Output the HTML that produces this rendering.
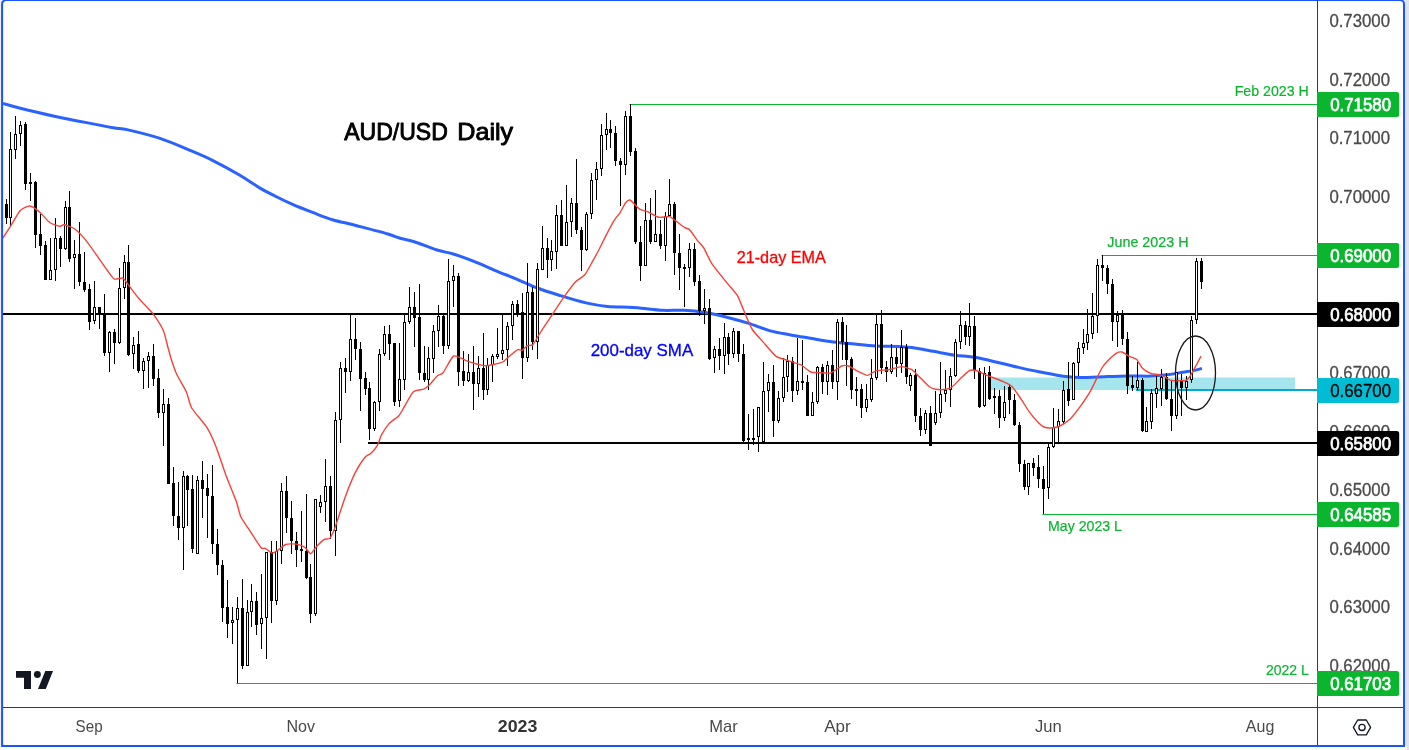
<!DOCTYPE html>
<html><head><meta charset="utf-8"><title>AUD/USD Daily</title>
<style>
html,body{margin:0;padding:0;background:#ffffff;}
body{width:1409px;height:750px;overflow:hidden;position:relative;font-family:"Liberation Sans",sans-serif;}
svg{position:absolute;left:0;top:0;display:block}
text{font-family:"Liberation Sans",sans-serif;}
</style></head><body>
<svg width="1409" height="750" viewBox="0 0 1409 750">

<rect x="0" y="0" width="1409" height="750" fill="#ffffff"/><rect x="1404" y="0" width="5" height="746" fill="#dfe3ee"/><rect x="1407" y="744" width="2" height="6" fill="#dfe3ee"/><rect x="0" y="0" width="2" height="746" fill="#eceef5"/>
<path d="M2.1,745.9 V4 a4,4 0 0 1 4,-4 H1400 a4,4 0 0 1 4,4 V745.9 Z" fill="#ffffff" stroke="#1a53ff" stroke-width="2" stroke-linejoin="miter"/>
<clipPath id="c"><rect x="3" y="0" width="1314" height="707"/></clipPath>
<g clip-path="url(#c)">
<rect x="991" y="377.5" width="304" height="12.5" fill="#a5e6ee"/>
<rect x="1136" y="389" width="182" height="2" fill="#00acc8"/>
<rect x="3" y="313" width="1315" height="2" fill="#000"/>
<rect x="368" y="442" width="950" height="2" fill="#000"/>
<rect x="629.5" y="104" width="688.5" height="1" fill="#09b62d"/>
<rect x="1101.5" y="255" width="216.5" height="1" fill="#09b62d"/>
<rect x="1042.5" y="514" width="275.5" height="1" fill="#09b62d"/>
<rect x="236.5" y="683" width="1081.5" height="1" fill="#09b62d"/>
<path d="M3.0,103.5 C6.1,104.3 12.9,106.4 21.3,108.5 C29.7,110.6 42.6,113.7 53.3,116.0 C64.0,118.3 75.3,120.5 85.3,122.4 C95.3,124.4 106.0,126.5 113.1,127.7 C120.2,128.9 120.2,128.1 128.0,129.9 C135.8,131.7 149.3,134.9 160.0,138.4 C170.7,141.9 183.1,147.5 192.0,151.2 C200.9,154.9 205.6,156.9 213.4,160.8 C221.2,164.7 231.2,170.1 239.0,174.7 C246.8,179.2 254.0,184.5 260.0,188.1 C266.0,191.7 269.6,193.3 274.9,196.0 C280.2,198.7 285.6,201.3 292.0,204.1 C298.4,206.9 306.6,210.1 313.3,212.7 C320.1,215.3 325.4,217.6 332.5,219.7 C339.6,221.8 346.8,223.1 356.0,225.5 C365.2,227.9 380.9,231.9 388.0,234.0 C395.1,236.1 394.4,236.6 398.7,237.8 C403.0,239.1 407.2,239.5 413.6,241.5 C420.0,243.5 430.4,247.9 437.1,250.0 C443.9,252.1 447.4,252.2 454.1,254.3 C460.9,256.4 470.8,260.1 477.6,262.8 C484.4,265.5 488.3,267.6 494.7,270.3 C501.1,273.0 508.9,275.9 516.0,278.8 C523.1,281.8 530.1,285.2 537.4,288.0 C544.7,290.8 551.9,293.0 560.0,295.5 C568.1,298.0 578.1,301.1 586.0,302.9 C593.9,304.7 600.3,305.8 607.4,306.5 C614.5,307.2 623.1,306.9 628.7,307.2 C634.4,307.5 635.6,307.7 641.3,308.2 C647.0,308.7 655.6,309.9 662.7,310.3 C669.8,310.7 676.9,309.9 684.0,310.3 C691.1,310.7 698.2,311.4 705.3,312.5 C712.4,313.6 719.6,315.4 726.7,317.2 C733.8,319.0 740.9,320.9 748.0,323.1 C755.1,325.3 762.3,328.6 769.4,330.6 C776.5,332.6 783.6,333.6 790.7,334.9 C797.8,336.2 804.9,337.3 812.0,338.5 C819.1,339.7 826.3,341.0 833.4,341.9 C840.5,342.8 847.6,343.4 854.7,344.1 C861.8,344.8 868.9,345.6 876.0,346.0 C883.1,346.4 891.4,346.1 897.4,346.4 C903.4,346.6 906.0,346.7 912.0,347.5 C918.0,348.3 926.3,350.0 933.4,351.3 C940.5,352.6 947.6,354.2 954.7,355.2 C961.8,356.2 968.2,356.1 976.0,357.5 C983.8,358.9 993.5,361.5 1001.3,363.3 C1009.1,365.1 1015.6,366.8 1022.7,368.4 C1029.8,370.0 1036.9,371.3 1044.0,372.7 C1051.1,374.1 1059.2,375.7 1065.3,376.5 C1071.3,377.3 1073.2,377.6 1080.3,377.6 C1087.4,377.6 1099.8,376.8 1108.0,376.5 C1116.2,376.2 1122.3,376.0 1129.4,375.9 C1136.5,375.8 1144.3,376.3 1150.7,376.1 C1157.1,375.9 1162.4,375.4 1167.7,374.8 C1173.0,374.2 1178.4,373.0 1182.7,372.3 C1187.0,371.6 1190.2,371.2 1193.4,370.6 C1196.6,370.0 1200.5,368.8 1201.9,368.4" fill="none" stroke="#2962ff" stroke-width="3" stroke-linejoin="round" stroke-linecap="butt"/>
<g shape-rendering="crispEdges">
<rect x="6" y="199" width="1" height="25" fill="#000"/>
<rect x="5" y="204" width="3" height="14" fill="#000"/>
<rect x="10" y="132" width="1" height="95" fill="#000"/>
<rect x="9" y="149" width="3" height="69" fill="#000"/>
<rect x="10" y="150" width="1" height="67" fill="#fff"/>
<rect x="15" y="116" width="1" height="43" fill="#000"/>
<rect x="14" y="134" width="3" height="16" fill="#000"/>
<rect x="15" y="135" width="1" height="14" fill="#fff"/>
<rect x="20" y="121" width="1" height="25" fill="#000"/>
<rect x="19" y="125" width="3" height="9" fill="#000"/>
<rect x="20" y="126" width="1" height="7" fill="#fff"/>
<rect x="25" y="122" width="1" height="68" fill="#000"/>
<rect x="24" y="124" width="3" height="60" fill="#000"/>
<rect x="30" y="173" width="1" height="28" fill="#000"/>
<rect x="29" y="182" width="3" height="2" fill="#000"/>
<rect x="35" y="181" width="1" height="67" fill="#000"/>
<rect x="34" y="182" width="3" height="53" fill="#000"/>
<rect x="40" y="214" width="1" height="41" fill="#000"/>
<rect x="39" y="234" width="3" height="12" fill="#000"/>
<rect x="45" y="241" width="1" height="39" fill="#000"/>
<rect x="44" y="245" width="3" height="35" fill="#000"/>
<rect x="50" y="238" width="1" height="42" fill="#000"/>
<rect x="49" y="270" width="3" height="10" fill="#000"/>
<rect x="50" y="271" width="1" height="8" fill="#fff"/>
<rect x="55" y="218" width="1" height="63" fill="#000"/>
<rect x="54" y="238" width="3" height="32" fill="#000"/>
<rect x="55" y="239" width="1" height="30" fill="#fff"/>
<rect x="60" y="236" width="1" height="31" fill="#000"/>
<rect x="59" y="238" width="3" height="11" fill="#000"/>
<rect x="65" y="201" width="1" height="49" fill="#000"/>
<rect x="64" y="207" width="3" height="42" fill="#000"/>
<rect x="65" y="208" width="1" height="40" fill="#fff"/>
<rect x="69" y="191" width="1" height="71" fill="#000"/>
<rect x="68" y="207" width="3" height="52" fill="#000"/>
<rect x="74" y="240" width="1" height="49" fill="#000"/>
<rect x="73" y="254" width="3" height="4" fill="#000"/>
<rect x="74" y="255" width="1" height="2" fill="#fff"/>
<rect x="79" y="222" width="1" height="64" fill="#000"/>
<rect x="78" y="254" width="3" height="28" fill="#000"/>
<rect x="84" y="252" width="1" height="40" fill="#000"/>
<rect x="83" y="282" width="3" height="8" fill="#000"/>
<rect x="89" y="284" width="1" height="46" fill="#000"/>
<rect x="88" y="289" width="3" height="33" fill="#000"/>
<rect x="94" y="281" width="1" height="43" fill="#000"/>
<rect x="93" y="307" width="3" height="14" fill="#000"/>
<rect x="94" y="308" width="1" height="12" fill="#fff"/>
<rect x="99" y="307" width="1" height="22" fill="#000"/>
<rect x="98" y="307" width="3" height="8" fill="#000"/>
<rect x="104" y="294" width="1" height="62" fill="#000"/>
<rect x="103" y="314" width="3" height="39" fill="#000"/>
<rect x="109" y="331" width="1" height="41" fill="#000"/>
<rect x="108" y="332" width="3" height="21" fill="#000"/>
<rect x="109" y="333" width="1" height="19" fill="#fff"/>
<rect x="114" y="329" width="1" height="35" fill="#000"/>
<rect x="113" y="332" width="3" height="11" fill="#000"/>
<rect x="119" y="268" width="1" height="76" fill="#000"/>
<rect x="118" y="288" width="3" height="55" fill="#000"/>
<rect x="119" y="289" width="1" height="53" fill="#fff"/>
<rect x="124" y="255" width="1" height="44" fill="#000"/>
<rect x="123" y="262" width="3" height="26" fill="#000"/>
<rect x="124" y="263" width="1" height="24" fill="#fff"/>
<rect x="128" y="245" width="1" height="111" fill="#000"/>
<rect x="127" y="262" width="3" height="93" fill="#000"/>
<rect x="133" y="337" width="1" height="32" fill="#000"/>
<rect x="132" y="345" width="3" height="9" fill="#000"/>
<rect x="133" y="346" width="1" height="7" fill="#fff"/>
<rect x="138" y="331" width="1" height="42" fill="#000"/>
<rect x="137" y="344" width="3" height="27" fill="#000"/>
<rect x="143" y="358" width="1" height="31" fill="#000"/>
<rect x="142" y="361" width="3" height="10" fill="#000"/>
<rect x="143" y="362" width="1" height="8" fill="#fff"/>
<rect x="148" y="352" width="1" height="36" fill="#000"/>
<rect x="147" y="356" width="3" height="5" fill="#000"/>
<rect x="148" y="357" width="1" height="3" fill="#fff"/>
<rect x="153" y="344" width="1" height="42" fill="#000"/>
<rect x="152" y="356" width="3" height="23" fill="#000"/>
<rect x="158" y="369" width="1" height="49" fill="#000"/>
<rect x="157" y="378" width="3" height="35" fill="#000"/>
<rect x="163" y="389" width="1" height="57" fill="#000"/>
<rect x="162" y="404" width="3" height="9" fill="#000"/>
<rect x="163" y="405" width="1" height="7" fill="#fff"/>
<rect x="168" y="398" width="1" height="86" fill="#000"/>
<rect x="167" y="404" width="3" height="80" fill="#000"/>
<rect x="173" y="467" width="1" height="59" fill="#000"/>
<rect x="172" y="483" width="3" height="33" fill="#000"/>
<rect x="178" y="482" width="1" height="58" fill="#000"/>
<rect x="177" y="516" width="3" height="12" fill="#000"/>
<rect x="183" y="471" width="1" height="99" fill="#000"/>
<rect x="182" y="476" width="3" height="52" fill="#000"/>
<rect x="183" y="477" width="1" height="50" fill="#fff"/>
<rect x="187" y="475" width="1" height="51" fill="#000"/>
<rect x="186" y="476" width="3" height="14" fill="#000"/>
<rect x="192" y="475" width="1" height="78" fill="#000"/>
<rect x="191" y="489" width="3" height="60" fill="#000"/>
<rect x="197" y="476" width="1" height="78" fill="#000"/>
<rect x="196" y="480" width="3" height="74" fill="#000"/>
<rect x="197" y="481" width="1" height="72" fill="#fff"/>
<rect x="202" y="461" width="1" height="57" fill="#000"/>
<rect x="201" y="480" width="3" height="9" fill="#000"/>
<rect x="207" y="474" width="1" height="64" fill="#000"/>
<rect x="206" y="488" width="3" height="8" fill="#000"/>
<rect x="212" y="465" width="1" height="89" fill="#000"/>
<rect x="211" y="496" width="3" height="48" fill="#000"/>
<rect x="217" y="529" width="1" height="46" fill="#000"/>
<rect x="216" y="544" width="3" height="21" fill="#000"/>
<rect x="222" y="560" width="1" height="62" fill="#000"/>
<rect x="221" y="565" width="3" height="43" fill="#000"/>
<rect x="227" y="580" width="1" height="58" fill="#000"/>
<rect x="226" y="607" width="3" height="17" fill="#000"/>
<rect x="232" y="607" width="1" height="37" fill="#000"/>
<rect x="231" y="620" width="3" height="3" fill="#000"/>
<rect x="232" y="621" width="1" height="1" fill="#fff"/>
<rect x="237" y="597" width="1" height="86" fill="#000"/>
<rect x="236" y="608" width="3" height="12" fill="#000"/>
<rect x="237" y="609" width="1" height="10" fill="#fff"/>
<rect x="242" y="579" width="1" height="90" fill="#000"/>
<rect x="241" y="608" width="3" height="58" fill="#000"/>
<rect x="247" y="600" width="1" height="66" fill="#000"/>
<rect x="246" y="612" width="3" height="54" fill="#000"/>
<rect x="247" y="613" width="1" height="52" fill="#fff"/>
<rect x="251" y="584" width="1" height="43" fill="#000"/>
<rect x="250" y="601" width="3" height="11" fill="#000"/>
<rect x="251" y="602" width="1" height="9" fill="#fff"/>
<rect x="256" y="592" width="1" height="43" fill="#000"/>
<rect x="255" y="601" width="3" height="24" fill="#000"/>
<rect x="261" y="574" width="1" height="75" fill="#000"/>
<rect x="260" y="618" width="3" height="6" fill="#000"/>
<rect x="261" y="619" width="1" height="4" fill="#fff"/>
<rect x="266" y="552" width="1" height="107" fill="#000"/>
<rect x="265" y="552" width="3" height="66" fill="#000"/>
<rect x="266" y="553" width="1" height="64" fill="#fff"/>
<rect x="271" y="541" width="1" height="82" fill="#000"/>
<rect x="270" y="552" width="3" height="49" fill="#000"/>
<rect x="276" y="541" width="1" height="64" fill="#000"/>
<rect x="275" y="551" width="3" height="50" fill="#000"/>
<rect x="276" y="552" width="1" height="48" fill="#fff"/>
<rect x="281" y="483" width="1" height="81" fill="#000"/>
<rect x="280" y="491" width="3" height="60" fill="#000"/>
<rect x="281" y="492" width="1" height="58" fill="#fff"/>
<rect x="286" y="476" width="1" height="57" fill="#000"/>
<rect x="285" y="491" width="3" height="27" fill="#000"/>
<rect x="291" y="501" width="1" height="53" fill="#000"/>
<rect x="290" y="518" width="3" height="23" fill="#000"/>
<rect x="296" y="532" width="1" height="35" fill="#000"/>
<rect x="295" y="541" width="3" height="9" fill="#000"/>
<rect x="301" y="511" width="1" height="51" fill="#000"/>
<rect x="300" y="549" width="3" height="2" fill="#000"/>
<rect x="306" y="494" width="1" height="85" fill="#000"/>
<rect x="305" y="551" width="3" height="27" fill="#000"/>
<rect x="310" y="564" width="1" height="59" fill="#000"/>
<rect x="309" y="577" width="3" height="37" fill="#000"/>
<rect x="315" y="499" width="1" height="117" fill="#000"/>
<rect x="314" y="499" width="3" height="115" fill="#000"/>
<rect x="315" y="500" width="1" height="113" fill="#fff"/>
<rect x="320" y="495" width="1" height="18" fill="#000"/>
<rect x="319" y="502" width="3" height="5" fill="#000"/>
<rect x="320" y="503" width="1" height="3" fill="#fff"/>
<rect x="325" y="459" width="1" height="63" fill="#000"/>
<rect x="324" y="486" width="3" height="16" fill="#000"/>
<rect x="325" y="487" width="1" height="14" fill="#fff"/>
<rect x="330" y="476" width="1" height="63" fill="#000"/>
<rect x="329" y="486" width="3" height="45" fill="#000"/>
<rect x="335" y="412" width="1" height="144" fill="#000"/>
<rect x="334" y="420" width="3" height="111" fill="#000"/>
<rect x="335" y="421" width="1" height="109" fill="#fff"/>
<rect x="340" y="362" width="1" height="81" fill="#000"/>
<rect x="339" y="368" width="3" height="52" fill="#000"/>
<rect x="340" y="369" width="1" height="50" fill="#fff"/>
<rect x="345" y="358" width="1" height="35" fill="#000"/>
<rect x="344" y="368" width="3" height="4" fill="#000"/>
<rect x="350" y="314" width="1" height="67" fill="#000"/>
<rect x="349" y="339" width="3" height="33" fill="#000"/>
<rect x="350" y="340" width="1" height="31" fill="#fff"/>
<rect x="355" y="318" width="1" height="42" fill="#000"/>
<rect x="354" y="339" width="3" height="10" fill="#000"/>
<rect x="360" y="342" width="1" height="69" fill="#000"/>
<rect x="359" y="349" width="3" height="30" fill="#000"/>
<rect x="365" y="372" width="1" height="23" fill="#000"/>
<rect x="364" y="378" width="3" height="11" fill="#000"/>
<rect x="369" y="382" width="1" height="58" fill="#000"/>
<rect x="368" y="388" width="3" height="41" fill="#000"/>
<rect x="374" y="401" width="1" height="30" fill="#000"/>
<rect x="373" y="402" width="3" height="27" fill="#000"/>
<rect x="374" y="403" width="1" height="25" fill="#fff"/>
<rect x="379" y="349" width="1" height="62" fill="#000"/>
<rect x="378" y="354" width="3" height="48" fill="#000"/>
<rect x="379" y="355" width="1" height="46" fill="#fff"/>
<rect x="384" y="326" width="1" height="30" fill="#000"/>
<rect x="383" y="334" width="3" height="20" fill="#000"/>
<rect x="384" y="335" width="1" height="18" fill="#fff"/>
<rect x="389" y="325" width="1" height="35" fill="#000"/>
<rect x="388" y="334" width="3" height="10" fill="#000"/>
<rect x="394" y="343" width="1" height="63" fill="#000"/>
<rect x="393" y="343" width="3" height="59" fill="#000"/>
<rect x="399" y="343" width="1" height="64" fill="#000"/>
<rect x="398" y="379" width="3" height="22" fill="#000"/>
<rect x="399" y="380" width="1" height="20" fill="#fff"/>
<rect x="404" y="315" width="1" height="75" fill="#000"/>
<rect x="403" y="322" width="3" height="58" fill="#000"/>
<rect x="404" y="323" width="1" height="56" fill="#fff"/>
<rect x="409" y="287" width="1" height="37" fill="#000"/>
<rect x="408" y="307" width="3" height="15" fill="#000"/>
<rect x="409" y="308" width="1" height="13" fill="#fff"/>
<rect x="414" y="292" width="1" height="55" fill="#000"/>
<rect x="413" y="307" width="3" height="11" fill="#000"/>
<rect x="419" y="284" width="1" height="96" fill="#000"/>
<rect x="418" y="317" width="3" height="56" fill="#000"/>
<rect x="424" y="346" width="1" height="36" fill="#000"/>
<rect x="423" y="373" width="3" height="7" fill="#000"/>
<rect x="428" y="347" width="1" height="43" fill="#000"/>
<rect x="427" y="358" width="3" height="22" fill="#000"/>
<rect x="428" y="359" width="1" height="20" fill="#fff"/>
<rect x="433" y="325" width="1" height="48" fill="#000"/>
<rect x="432" y="331" width="3" height="28" fill="#000"/>
<rect x="433" y="332" width="1" height="26" fill="#fff"/>
<rect x="438" y="305" width="1" height="42" fill="#000"/>
<rect x="437" y="316" width="3" height="15" fill="#000"/>
<rect x="438" y="317" width="1" height="13" fill="#fff"/>
<rect x="443" y="315" width="1" height="39" fill="#000"/>
<rect x="442" y="316" width="3" height="30" fill="#000"/>
<rect x="448" y="259" width="1" height="90" fill="#000"/>
<rect x="447" y="281" width="3" height="65" fill="#000"/>
<rect x="448" y="282" width="1" height="63" fill="#fff"/>
<rect x="453" y="265" width="1" height="42" fill="#000"/>
<rect x="452" y="276" width="3" height="5" fill="#000"/>
<rect x="453" y="277" width="1" height="3" fill="#fff"/>
<rect x="458" y="273" width="1" height="113" fill="#000"/>
<rect x="457" y="276" width="3" height="96" fill="#000"/>
<rect x="463" y="351" width="1" height="35" fill="#000"/>
<rect x="462" y="371" width="3" height="10" fill="#000"/>
<rect x="468" y="354" width="1" height="28" fill="#000"/>
<rect x="467" y="372" width="3" height="9" fill="#000"/>
<rect x="468" y="373" width="1" height="7" fill="#fff"/>
<rect x="473" y="346" width="1" height="64" fill="#000"/>
<rect x="472" y="372" width="3" height="12" fill="#000"/>
<rect x="478" y="356" width="1" height="41" fill="#000"/>
<rect x="477" y="368" width="3" height="16" fill="#000"/>
<rect x="478" y="369" width="1" height="14" fill="#fff"/>
<rect x="483" y="333" width="1" height="67" fill="#000"/>
<rect x="482" y="368" width="3" height="22" fill="#000"/>
<rect x="487" y="358" width="1" height="37" fill="#000"/>
<rect x="486" y="365" width="3" height="25" fill="#000"/>
<rect x="487" y="366" width="1" height="23" fill="#fff"/>
<rect x="492" y="354" width="1" height="28" fill="#000"/>
<rect x="491" y="356" width="3" height="9" fill="#000"/>
<rect x="492" y="357" width="1" height="7" fill="#fff"/>
<rect x="497" y="328" width="1" height="31" fill="#000"/>
<rect x="496" y="354" width="3" height="3" fill="#000"/>
<rect x="497" y="355" width="1" height="1" fill="#fff"/>
<rect x="502" y="315" width="1" height="45" fill="#000"/>
<rect x="501" y="350" width="3" height="4" fill="#000"/>
<rect x="502" y="351" width="1" height="2" fill="#fff"/>
<rect x="507" y="322" width="1" height="44" fill="#000"/>
<rect x="506" y="326" width="3" height="24" fill="#000"/>
<rect x="507" y="327" width="1" height="22" fill="#fff"/>
<rect x="512" y="301" width="1" height="39" fill="#000"/>
<rect x="511" y="304" width="3" height="22" fill="#000"/>
<rect x="512" y="305" width="1" height="20" fill="#fff"/>
<rect x="517" y="300" width="1" height="17" fill="#000"/>
<rect x="516" y="304" width="3" height="10" fill="#000"/>
<rect x="522" y="293" width="1" height="86" fill="#000"/>
<rect x="521" y="312" width="3" height="46" fill="#000"/>
<rect x="527" y="263" width="1" height="99" fill="#000"/>
<rect x="526" y="292" width="3" height="66" fill="#000"/>
<rect x="527" y="293" width="1" height="64" fill="#fff"/>
<rect x="532" y="287" width="1" height="63" fill="#000"/>
<rect x="531" y="292" width="3" height="50" fill="#000"/>
<rect x="537" y="263" width="1" height="96" fill="#000"/>
<rect x="536" y="269" width="3" height="73" fill="#000"/>
<rect x="537" y="270" width="1" height="71" fill="#fff"/>
<rect x="542" y="226" width="1" height="44" fill="#000"/>
<rect x="541" y="248" width="3" height="22" fill="#000"/>
<rect x="542" y="249" width="1" height="20" fill="#fff"/>
<rect x="547" y="238" width="1" height="40" fill="#000"/>
<rect x="546" y="248" width="3" height="12" fill="#000"/>
<rect x="551" y="240" width="1" height="31" fill="#000"/>
<rect x="550" y="251" width="3" height="9" fill="#000"/>
<rect x="551" y="252" width="1" height="7" fill="#fff"/>
<rect x="556" y="205" width="1" height="64" fill="#000"/>
<rect x="555" y="215" width="3" height="37" fill="#000"/>
<rect x="556" y="216" width="1" height="35" fill="#fff"/>
<rect x="561" y="200" width="1" height="46" fill="#000"/>
<rect x="560" y="215" width="3" height="31" fill="#000"/>
<rect x="566" y="185" width="1" height="61" fill="#000"/>
<rect x="565" y="222" width="3" height="24" fill="#000"/>
<rect x="566" y="223" width="1" height="22" fill="#fff"/>
<rect x="571" y="198" width="1" height="39" fill="#000"/>
<rect x="570" y="203" width="3" height="19" fill="#000"/>
<rect x="571" y="204" width="1" height="17" fill="#fff"/>
<rect x="576" y="159" width="1" height="75" fill="#000"/>
<rect x="575" y="203" width="3" height="27" fill="#000"/>
<rect x="581" y="227" width="1" height="44" fill="#000"/>
<rect x="580" y="230" width="3" height="20" fill="#000"/>
<rect x="586" y="212" width="1" height="39" fill="#000"/>
<rect x="585" y="214" width="3" height="36" fill="#000"/>
<rect x="586" y="215" width="1" height="34" fill="#fff"/>
<rect x="591" y="173" width="1" height="46" fill="#000"/>
<rect x="590" y="180" width="3" height="34" fill="#000"/>
<rect x="591" y="181" width="1" height="32" fill="#fff"/>
<rect x="596" y="162" width="1" height="38" fill="#000"/>
<rect x="595" y="169" width="3" height="11" fill="#000"/>
<rect x="596" y="170" width="1" height="9" fill="#fff"/>
<rect x="601" y="124" width="1" height="52" fill="#000"/>
<rect x="600" y="135" width="3" height="34" fill="#000"/>
<rect x="601" y="136" width="1" height="32" fill="#fff"/>
<rect x="606" y="113" width="1" height="37" fill="#000"/>
<rect x="605" y="129" width="3" height="6" fill="#000"/>
<rect x="606" y="130" width="1" height="4" fill="#fff"/>
<rect x="610" y="120" width="1" height="28" fill="#000"/>
<rect x="609" y="129" width="3" height="4" fill="#000"/>
<rect x="615" y="126" width="1" height="40" fill="#000"/>
<rect x="614" y="133" width="3" height="28" fill="#000"/>
<rect x="620" y="158" width="1" height="48" fill="#000"/>
<rect x="619" y="161" width="3" height="4" fill="#000"/>
<rect x="625" y="111" width="1" height="64" fill="#000"/>
<rect x="624" y="116" width="3" height="49" fill="#000"/>
<rect x="625" y="117" width="1" height="47" fill="#fff"/>
<rect x="630" y="104" width="1" height="52" fill="#000"/>
<rect x="629" y="116" width="3" height="36" fill="#000"/>
<rect x="635" y="148" width="1" height="96" fill="#000"/>
<rect x="634" y="151" width="3" height="91" fill="#000"/>
<rect x="640" y="226" width="1" height="55" fill="#000"/>
<rect x="639" y="242" width="3" height="24" fill="#000"/>
<rect x="645" y="203" width="1" height="63" fill="#000"/>
<rect x="644" y="220" width="3" height="46" fill="#000"/>
<rect x="645" y="221" width="1" height="44" fill="#fff"/>
<rect x="650" y="198" width="1" height="46" fill="#000"/>
<rect x="649" y="220" width="3" height="22" fill="#000"/>
<rect x="655" y="190" width="1" height="52" fill="#000"/>
<rect x="654" y="234" width="3" height="8" fill="#000"/>
<rect x="655" y="235" width="1" height="6" fill="#fff"/>
<rect x="660" y="220" width="1" height="29" fill="#000"/>
<rect x="659" y="234" width="3" height="12" fill="#000"/>
<rect x="665" y="212" width="1" height="49" fill="#000"/>
<rect x="664" y="216" width="3" height="30" fill="#000"/>
<rect x="665" y="217" width="1" height="28" fill="#fff"/>
<rect x="669" y="179" width="1" height="37" fill="#000"/>
<rect x="668" y="204" width="3" height="12" fill="#000"/>
<rect x="669" y="205" width="1" height="10" fill="#fff"/>
<rect x="674" y="202" width="1" height="73" fill="#000"/>
<rect x="673" y="204" width="3" height="49" fill="#000"/>
<rect x="679" y="234" width="1" height="56" fill="#000"/>
<rect x="678" y="253" width="3" height="15" fill="#000"/>
<rect x="684" y="264" width="1" height="43" fill="#000"/>
<rect x="683" y="267" width="3" height="2" fill="#000"/>
<rect x="689" y="243" width="1" height="34" fill="#000"/>
<rect x="688" y="249" width="3" height="19" fill="#000"/>
<rect x="689" y="250" width="1" height="17" fill="#fff"/>
<rect x="694" y="243" width="1" height="43" fill="#000"/>
<rect x="693" y="249" width="3" height="33" fill="#000"/>
<rect x="699" y="275" width="1" height="41" fill="#000"/>
<rect x="698" y="281" width="3" height="30" fill="#000"/>
<rect x="704" y="289" width="1" height="35" fill="#000"/>
<rect x="703" y="308" width="3" height="3" fill="#000"/>
<rect x="704" y="309" width="1" height="1" fill="#fff"/>
<rect x="709" y="299" width="1" height="61" fill="#000"/>
<rect x="708" y="308" width="3" height="51" fill="#000"/>
<rect x="714" y="346" width="1" height="27" fill="#000"/>
<rect x="713" y="349" width="3" height="9" fill="#000"/>
<rect x="714" y="350" width="1" height="7" fill="#fff"/>
<rect x="719" y="338" width="1" height="32" fill="#000"/>
<rect x="718" y="349" width="3" height="7" fill="#000"/>
<rect x="724" y="323" width="1" height="51" fill="#000"/>
<rect x="723" y="337" width="3" height="19" fill="#000"/>
<rect x="724" y="338" width="1" height="17" fill="#fff"/>
<rect x="728" y="333" width="1" height="32" fill="#000"/>
<rect x="727" y="337" width="3" height="17" fill="#000"/>
<rect x="733" y="328" width="1" height="30" fill="#000"/>
<rect x="732" y="331" width="3" height="23" fill="#000"/>
<rect x="733" y="332" width="1" height="21" fill="#fff"/>
<rect x="738" y="331" width="1" height="31" fill="#000"/>
<rect x="737" y="331" width="3" height="23" fill="#000"/>
<rect x="743" y="344" width="1" height="98" fill="#000"/>
<rect x="742" y="354" width="3" height="87" fill="#000"/>
<rect x="748" y="414" width="1" height="36" fill="#000"/>
<rect x="747" y="438" width="3" height="2" fill="#000"/>
<rect x="753" y="409" width="1" height="36" fill="#000"/>
<rect x="752" y="438" width="3" height="2" fill="#000"/>
<rect x="758" y="407" width="1" height="45" fill="#000"/>
<rect x="757" y="407" width="3" height="30" fill="#000"/>
<rect x="758" y="408" width="1" height="28" fill="#fff"/>
<rect x="763" y="362" width="1" height="80" fill="#000"/>
<rect x="762" y="391" width="3" height="51" fill="#000"/>
<rect x="763" y="392" width="1" height="49" fill="#fff"/>
<rect x="768" y="374" width="1" height="38" fill="#000"/>
<rect x="767" y="382" width="3" height="9" fill="#000"/>
<rect x="768" y="383" width="1" height="7" fill="#fff"/>
<rect x="773" y="365" width="1" height="72" fill="#000"/>
<rect x="772" y="382" width="3" height="39" fill="#000"/>
<rect x="778" y="391" width="1" height="32" fill="#000"/>
<rect x="777" y="398" width="3" height="23" fill="#000"/>
<rect x="778" y="399" width="1" height="21" fill="#fff"/>
<rect x="783" y="358" width="1" height="44" fill="#000"/>
<rect x="782" y="377" width="3" height="21" fill="#000"/>
<rect x="783" y="378" width="1" height="19" fill="#fff"/>
<rect x="787" y="355" width="1" height="37" fill="#000"/>
<rect x="786" y="361" width="3" height="16" fill="#000"/>
<rect x="787" y="362" width="1" height="14" fill="#fff"/>
<rect x="792" y="357" width="1" height="45" fill="#000"/>
<rect x="791" y="361" width="3" height="30" fill="#000"/>
<rect x="797" y="338" width="1" height="57" fill="#000"/>
<rect x="796" y="381" width="3" height="10" fill="#000"/>
<rect x="797" y="382" width="1" height="8" fill="#fff"/>
<rect x="802" y="340" width="1" height="50" fill="#000"/>
<rect x="801" y="381" width="3" height="2" fill="#000"/>
<rect x="807" y="375" width="1" height="41" fill="#000"/>
<rect x="806" y="382" width="3" height="34" fill="#000"/>
<rect x="812" y="392" width="1" height="24" fill="#000"/>
<rect x="811" y="402" width="3" height="14" fill="#000"/>
<rect x="812" y="403" width="1" height="12" fill="#fff"/>
<rect x="817" y="366" width="1" height="38" fill="#000"/>
<rect x="816" y="367" width="3" height="35" fill="#000"/>
<rect x="817" y="368" width="1" height="33" fill="#fff"/>
<rect x="822" y="364" width="1" height="30" fill="#000"/>
<rect x="821" y="367" width="3" height="15" fill="#000"/>
<rect x="827" y="361" width="1" height="34" fill="#000"/>
<rect x="826" y="365" width="3" height="17" fill="#000"/>
<rect x="827" y="366" width="1" height="15" fill="#fff"/>
<rect x="832" y="350" width="1" height="39" fill="#000"/>
<rect x="831" y="365" width="3" height="17" fill="#000"/>
<rect x="837" y="319" width="1" height="81" fill="#000"/>
<rect x="836" y="322" width="3" height="60" fill="#000"/>
<rect x="837" y="323" width="1" height="58" fill="#fff"/>
<rect x="842" y="317" width="1" height="43" fill="#000"/>
<rect x="841" y="322" width="3" height="20" fill="#000"/>
<rect x="846" y="325" width="1" height="61" fill="#000"/>
<rect x="845" y="342" width="3" height="18" fill="#000"/>
<rect x="851" y="357" width="1" height="42" fill="#000"/>
<rect x="850" y="359" width="3" height="31" fill="#000"/>
<rect x="856" y="377" width="1" height="29" fill="#000"/>
<rect x="855" y="389" width="3" height="2" fill="#000"/>
<rect x="861" y="384" width="1" height="34" fill="#000"/>
<rect x="860" y="389" width="3" height="19" fill="#000"/>
<rect x="866" y="384" width="1" height="28" fill="#000"/>
<rect x="865" y="399" width="3" height="9" fill="#000"/>
<rect x="866" y="400" width="1" height="7" fill="#fff"/>
<rect x="871" y="359" width="1" height="43" fill="#000"/>
<rect x="870" y="378" width="3" height="22" fill="#000"/>
<rect x="871" y="379" width="1" height="20" fill="#fff"/>
<rect x="876" y="315" width="1" height="65" fill="#000"/>
<rect x="875" y="324" width="3" height="54" fill="#000"/>
<rect x="876" y="325" width="1" height="52" fill="#fff"/>
<rect x="881" y="310" width="1" height="64" fill="#000"/>
<rect x="880" y="324" width="3" height="44" fill="#000"/>
<rect x="886" y="361" width="1" height="21" fill="#000"/>
<rect x="885" y="367" width="3" height="5" fill="#000"/>
<rect x="891" y="344" width="1" height="30" fill="#000"/>
<rect x="890" y="357" width="3" height="15" fill="#000"/>
<rect x="891" y="358" width="1" height="13" fill="#fff"/>
<rect x="896" y="348" width="1" height="29" fill="#000"/>
<rect x="895" y="357" width="3" height="7" fill="#000"/>
<rect x="901" y="330" width="1" height="43" fill="#000"/>
<rect x="900" y="347" width="3" height="17" fill="#000"/>
<rect x="901" y="348" width="1" height="15" fill="#fff"/>
<rect x="906" y="344" width="1" height="40" fill="#000"/>
<rect x="905" y="347" width="3" height="30" fill="#000"/>
<rect x="910" y="373" width="1" height="18" fill="#000"/>
<rect x="909" y="375" width="3" height="11" fill="#000"/>
<rect x="910" y="376" width="1" height="9" fill="#fff"/>
<rect x="915" y="369" width="1" height="53" fill="#000"/>
<rect x="914" y="375" width="3" height="41" fill="#000"/>
<rect x="920" y="408" width="1" height="28" fill="#000"/>
<rect x="919" y="416" width="3" height="14" fill="#000"/>
<rect x="925" y="410" width="1" height="24" fill="#000"/>
<rect x="924" y="413" width="3" height="17" fill="#000"/>
<rect x="925" y="414" width="1" height="15" fill="#fff"/>
<rect x="930" y="406" width="1" height="40" fill="#000"/>
<rect x="929" y="413" width="3" height="33" fill="#000"/>
<rect x="935" y="391" width="1" height="34" fill="#000"/>
<rect x="934" y="413" width="3" height="10" fill="#000"/>
<rect x="935" y="414" width="1" height="8" fill="#fff"/>
<rect x="940" y="362" width="1" height="56" fill="#000"/>
<rect x="939" y="394" width="3" height="19" fill="#000"/>
<rect x="940" y="395" width="1" height="17" fill="#fff"/>
<rect x="945" y="370" width="1" height="32" fill="#000"/>
<rect x="944" y="390" width="3" height="4" fill="#000"/>
<rect x="945" y="391" width="1" height="2" fill="#fff"/>
<rect x="950" y="368" width="1" height="39" fill="#000"/>
<rect x="949" y="376" width="3" height="14" fill="#000"/>
<rect x="950" y="377" width="1" height="12" fill="#fff"/>
<rect x="955" y="339" width="1" height="38" fill="#000"/>
<rect x="954" y="342" width="3" height="34" fill="#000"/>
<rect x="955" y="343" width="1" height="32" fill="#fff"/>
<rect x="960" y="311" width="1" height="38" fill="#000"/>
<rect x="959" y="325" width="3" height="17" fill="#000"/>
<rect x="960" y="326" width="1" height="15" fill="#fff"/>
<rect x="965" y="321" width="1" height="24" fill="#000"/>
<rect x="964" y="325" width="3" height="12" fill="#000"/>
<rect x="969" y="303" width="1" height="43" fill="#000"/>
<rect x="968" y="326" width="3" height="11" fill="#000"/>
<rect x="969" y="327" width="1" height="9" fill="#fff"/>
<rect x="974" y="316" width="1" height="63" fill="#000"/>
<rect x="973" y="326" width="3" height="44" fill="#000"/>
<rect x="979" y="368" width="1" height="40" fill="#000"/>
<rect x="978" y="371" width="3" height="36" fill="#000"/>
<rect x="984" y="367" width="1" height="40" fill="#000"/>
<rect x="983" y="373" width="3" height="33" fill="#000"/>
<rect x="984" y="374" width="1" height="31" fill="#fff"/>
<rect x="989" y="366" width="1" height="34" fill="#000"/>
<rect x="988" y="372" width="3" height="27" fill="#000"/>
<rect x="994" y="388" width="1" height="26" fill="#000"/>
<rect x="993" y="396" width="3" height="2" fill="#000"/>
<rect x="999" y="390" width="1" height="38" fill="#000"/>
<rect x="998" y="396" width="3" height="22" fill="#000"/>
<rect x="1004" y="386" width="1" height="35" fill="#000"/>
<rect x="1003" y="402" width="3" height="16" fill="#000"/>
<rect x="1004" y="403" width="1" height="14" fill="#fff"/>
<rect x="1009" y="385" width="1" height="29" fill="#000"/>
<rect x="1008" y="387" width="3" height="13" fill="#000"/>
<rect x="1014" y="394" width="1" height="32" fill="#000"/>
<rect x="1013" y="400" width="3" height="25" fill="#000"/>
<rect x="1019" y="422" width="1" height="50" fill="#000"/>
<rect x="1018" y="425" width="3" height="39" fill="#000"/>
<rect x="1024" y="460" width="1" height="30" fill="#000"/>
<rect x="1023" y="464" width="3" height="23" fill="#000"/>
<rect x="1028" y="463" width="1" height="32" fill="#000"/>
<rect x="1027" y="463" width="3" height="24" fill="#000"/>
<rect x="1028" y="464" width="1" height="22" fill="#fff"/>
<rect x="1033" y="458" width="1" height="18" fill="#000"/>
<rect x="1032" y="463" width="3" height="5" fill="#000"/>
<rect x="1038" y="455" width="1" height="33" fill="#000"/>
<rect x="1037" y="467" width="3" height="12" fill="#000"/>
<rect x="1043" y="466" width="1" height="48" fill="#000"/>
<rect x="1042" y="479" width="3" height="10" fill="#000"/>
<rect x="1048" y="444" width="1" height="55" fill="#000"/>
<rect x="1047" y="447" width="3" height="41" fill="#000"/>
<rect x="1048" y="448" width="1" height="39" fill="#fff"/>
<rect x="1053" y="408" width="1" height="40" fill="#000"/>
<rect x="1052" y="427" width="3" height="20" fill="#000"/>
<rect x="1053" y="428" width="1" height="18" fill="#fff"/>
<rect x="1058" y="409" width="1" height="33" fill="#000"/>
<rect x="1057" y="421" width="3" height="6" fill="#000"/>
<rect x="1058" y="422" width="1" height="4" fill="#fff"/>
<rect x="1063" y="381" width="1" height="43" fill="#000"/>
<rect x="1062" y="390" width="3" height="32" fill="#000"/>
<rect x="1063" y="391" width="1" height="30" fill="#fff"/>
<rect x="1068" y="362" width="1" height="44" fill="#000"/>
<rect x="1067" y="389" width="3" height="12" fill="#000"/>
<rect x="1073" y="362" width="1" height="38" fill="#000"/>
<rect x="1072" y="363" width="3" height="37" fill="#000"/>
<rect x="1073" y="364" width="1" height="35" fill="#fff"/>
<rect x="1078" y="342" width="1" height="34" fill="#000"/>
<rect x="1077" y="348" width="3" height="15" fill="#000"/>
<rect x="1078" y="349" width="1" height="13" fill="#fff"/>
<rect x="1083" y="329" width="1" height="25" fill="#000"/>
<rect x="1082" y="343" width="3" height="5" fill="#000"/>
<rect x="1083" y="344" width="1" height="3" fill="#fff"/>
<rect x="1087" y="309" width="1" height="41" fill="#000"/>
<rect x="1086" y="334" width="3" height="9" fill="#000"/>
<rect x="1087" y="335" width="1" height="7" fill="#fff"/>
<rect x="1092" y="293" width="1" height="46" fill="#000"/>
<rect x="1091" y="316" width="3" height="18" fill="#000"/>
<rect x="1092" y="317" width="1" height="16" fill="#fff"/>
<rect x="1097" y="259" width="1" height="74" fill="#000"/>
<rect x="1096" y="265" width="3" height="51" fill="#000"/>
<rect x="1097" y="266" width="1" height="49" fill="#fff"/>
<rect x="1102" y="255" width="1" height="26" fill="#000"/>
<rect x="1101" y="265" width="3" height="3" fill="#000"/>
<rect x="1107" y="265" width="1" height="29" fill="#000"/>
<rect x="1106" y="268" width="3" height="16" fill="#000"/>
<rect x="1112" y="279" width="1" height="62" fill="#000"/>
<rect x="1111" y="284" width="3" height="38" fill="#000"/>
<rect x="1117" y="311" width="1" height="36" fill="#000"/>
<rect x="1116" y="315" width="3" height="7" fill="#000"/>
<rect x="1117" y="316" width="1" height="5" fill="#fff"/>
<rect x="1122" y="310" width="1" height="35" fill="#000"/>
<rect x="1121" y="314" width="3" height="25" fill="#000"/>
<rect x="1127" y="332" width="1" height="62" fill="#000"/>
<rect x="1126" y="339" width="3" height="47" fill="#000"/>
<rect x="1132" y="376" width="1" height="15" fill="#000"/>
<rect x="1131" y="385" width="3" height="3" fill="#000"/>
<rect x="1137" y="362" width="1" height="28" fill="#000"/>
<rect x="1136" y="380" width="3" height="8" fill="#000"/>
<rect x="1137" y="381" width="1" height="6" fill="#fff"/>
<rect x="1142" y="378" width="1" height="54" fill="#000"/>
<rect x="1141" y="380" width="3" height="51" fill="#000"/>
<rect x="1146" y="407" width="1" height="25" fill="#000"/>
<rect x="1145" y="421" width="3" height="11" fill="#000"/>
<rect x="1146" y="422" width="1" height="9" fill="#fff"/>
<rect x="1151" y="389" width="1" height="40" fill="#000"/>
<rect x="1150" y="393" width="3" height="29" fill="#000"/>
<rect x="1151" y="394" width="1" height="27" fill="#fff"/>
<rect x="1156" y="376" width="1" height="32" fill="#000"/>
<rect x="1155" y="388" width="3" height="6" fill="#000"/>
<rect x="1156" y="389" width="1" height="4" fill="#fff"/>
<rect x="1161" y="369" width="1" height="37" fill="#000"/>
<rect x="1160" y="377" width="3" height="12" fill="#000"/>
<rect x="1161" y="378" width="1" height="10" fill="#fff"/>
<rect x="1166" y="373" width="1" height="27" fill="#000"/>
<rect x="1165" y="377" width="3" height="22" fill="#000"/>
<rect x="1171" y="380" width="1" height="51" fill="#000"/>
<rect x="1170" y="399" width="3" height="17" fill="#000"/>
<rect x="1176" y="372" width="1" height="47" fill="#000"/>
<rect x="1175" y="372" width="3" height="44" fill="#000"/>
<rect x="1176" y="373" width="1" height="42" fill="#fff"/>
<rect x="1181" y="374" width="1" height="42" fill="#000"/>
<rect x="1180" y="380" width="3" height="8" fill="#000"/>
<rect x="1186" y="376" width="1" height="24" fill="#000"/>
<rect x="1185" y="381" width="3" height="7" fill="#000"/>
<rect x="1186" y="382" width="1" height="5" fill="#fff"/>
<rect x="1191" y="316" width="1" height="67" fill="#000"/>
<rect x="1190" y="320" width="3" height="60" fill="#000"/>
<rect x="1191" y="321" width="1" height="58" fill="#fff"/>
<rect x="1196" y="258" width="1" height="66" fill="#000"/>
<rect x="1195" y="261" width="3" height="59" fill="#000"/>
<rect x="1196" y="262" width="1" height="57" fill="#fff"/>
<rect x="1201" y="258" width="1" height="31" fill="#000"/>
<rect x="1200" y="261" width="3" height="21" fill="#000"/>
</g>
<path d="M3.2,237.6 C4.0,236.4 9.0,228.6 10.7,225.9 C12.4,223.2 18.4,212.5 20.3,210.5 C22.2,208.5 28.0,205.8 29.9,206.0 C31.8,206.2 37.5,210.3 39.5,212.0 C41.5,213.7 48.0,221.3 50.0,222.7 C52.0,224.1 58.3,226.1 59.7,226.3 C61.1,226.5 62.5,224.5 64.0,224.8 C65.5,225.1 72.6,227.5 74.7,229.0 C76.8,230.5 82.8,236.6 85.3,239.6 C87.8,242.6 97.1,255.8 99.2,258.8 C101.3,261.8 105.2,267.5 106.7,269.5 C108.2,271.5 112.5,278.1 114.1,279.0 C115.7,279.9 121.3,277.5 122.7,278.0 C124.1,278.5 126.4,282.4 128.0,284.4 C129.6,286.4 136.2,295.4 138.7,298.3 C141.1,301.2 150.1,310.0 152.5,313.2 C154.9,316.4 161.6,326.7 163.2,330.3 C164.8,333.9 167.7,346.5 168.5,349.5 C169.3,352.5 170.7,357.5 171.5,360.0 C172.3,362.5 175.3,371.3 176.8,374.5 C178.3,377.7 184.9,388.6 186.4,392.0 C187.9,395.4 189.7,404.5 191.7,408.0 C193.7,411.5 204.2,423.2 206.7,427.2 C209.2,431.1 214.4,442.7 216.3,447.5 C218.2,452.3 223.9,469.8 225.9,475.2 C227.9,480.6 235.0,497.7 236.5,501.9 C238.0,506.1 239.4,513.8 240.8,516.8 C242.2,519.8 248.4,528.6 250.4,531.7 C252.4,534.8 259.6,546.0 261.1,547.7 C262.6,549.4 264.2,547.9 265.3,548.4 C266.4,548.9 270.6,552.9 271.8,553.1 C273.0,553.4 275.7,551.8 277.1,550.9 C278.5,550.0 283.7,545.2 285.6,544.5 C287.5,543.8 294.4,543.8 296.3,544.1 C298.2,544.4 303.4,546.3 304.8,547.3 C306.2,548.3 309.7,553.7 310.8,553.7 C311.9,553.7 314.2,549.1 315.5,547.7 C316.8,546.3 322.6,540.6 324.0,539.6 C325.4,538.6 328.8,539.5 330.0,538.1 C331.2,536.7 334.3,529.5 335.8,525.3 C337.3,521.1 343.5,501.7 345.4,496.5 C347.3,491.3 353.1,477.0 355.0,473.1 C356.9,469.2 363.0,459.7 364.6,457.7 C366.2,455.7 369.7,454.4 371.0,453.2 C372.3,452.0 376.3,447.2 377.4,445.3 C378.5,443.4 380.4,436.9 381.6,434.7 C382.8,432.5 387.4,425.5 389.1,423.6 C390.8,421.7 397.4,417.3 398.7,415.9 C400.0,414.5 401.1,412.4 402.5,410.0 C403.9,407.6 411.1,394.0 413.2,391.9 C415.3,389.8 422.2,389.9 423.9,389.1 C425.6,388.3 428.9,385.4 430.3,384.0 C431.7,382.6 436.4,376.6 437.7,375.5 C439.0,374.4 441.5,374.6 443.1,372.7 C444.7,370.8 451.3,357.2 453.7,356.0 C456.1,354.8 463.6,359.9 466.6,360.9 C469.6,361.9 481.0,365.2 483.6,365.6 C486.2,366.0 490.3,365.2 492.2,364.8 C494.1,364.4 500.9,363.0 502.8,362.0 C504.7,361.0 509.9,355.7 511.4,354.5 C512.9,353.3 516.7,350.0 517.8,349.6 C518.9,349.2 521.0,350.7 522.0,350.3 C523.0,349.9 526.3,346.1 527.4,345.6 C528.5,345.1 531.6,345.8 532.7,344.9 C533.8,344.0 536.9,338.1 538.0,336.4 C539.1,334.7 542.0,330.0 543.4,327.9 C544.8,325.8 549.8,318.3 551.9,315.1 C554.0,311.9 562.4,299.2 564.7,295.9 C567.1,292.6 573.4,284.1 575.4,282.0 C577.4,279.9 583.3,276.5 585.0,274.5 C586.7,272.5 591.0,264.1 592.4,261.7 C593.8,259.2 597.5,252.5 598.8,250.0 C600.1,247.5 603.8,239.8 605.3,236.9 C606.8,234.0 612.4,223.4 613.9,220.9 C615.4,218.4 619.1,214.1 620.3,212.3 C621.5,210.5 624.6,203.9 625.6,202.7 C626.6,201.5 628.9,199.8 629.9,200.0 C630.9,200.2 634.2,204.0 635.2,204.9 C636.2,205.8 638.2,208.4 639.5,209.1 C640.8,209.8 646.1,211.1 648.0,211.9 C649.9,212.7 656.6,216.8 658.7,217.3 C660.8,217.8 667.7,216.2 669.4,216.6 C671.1,217.0 674.3,219.8 675.8,220.9 C677.3,222.0 682.9,226.4 684.3,227.3 C685.7,228.2 688.3,228.5 689.6,229.8 C690.9,231.1 695.7,238.3 697.1,240.1 C698.5,241.9 702.0,245.2 703.5,247.5 C705.0,249.8 709.4,259.9 711.7,263.4 C714.0,266.9 724.1,279.4 726.7,282.6 C729.3,285.8 735.6,292.6 737.3,295.4 C739.0,298.2 742.2,306.9 743.7,310.3 C745.2,313.7 750.1,326.1 752.3,329.5 C754.5,332.9 763.2,342.0 765.5,344.7 C767.8,347.4 774.0,354.7 775.7,356.1 C777.5,357.5 781.4,358.4 783.0,359.0 C784.6,359.6 789.7,361.1 791.5,361.7 C793.3,362.3 799.3,364.0 801.2,365.0 C803.1,366.0 808.9,371.2 810.8,372.0 C812.7,372.8 818.0,372.6 820.0,372.7 C822.0,372.8 828.8,373.5 831.0,372.8 C833.2,372.1 840.0,366.7 841.7,366.0 C843.5,365.3 846.9,365.5 848.5,366.0 C850.1,366.5 855.6,370.3 857.5,371.2 C859.4,372.1 865.5,375.4 867.3,375.4 C869.1,375.4 873.7,371.4 875.8,370.8 C877.9,370.2 886.1,370.2 888.7,369.8 C891.3,369.4 899.2,366.6 901.5,366.6 C903.8,366.6 910.4,368.9 912.1,369.8 C913.8,370.7 916.7,374.2 918.4,375.9 C920.1,377.6 927.4,385.2 929.1,386.5 C930.8,387.8 933.8,389.0 935.5,389.3 C937.2,389.6 944.5,389.6 946.2,389.3 C947.9,389.0 951.1,387.6 952.6,386.5 C954.1,385.4 959.4,379.6 961.1,378.0 C962.8,376.4 968.1,371.2 969.6,370.5 C971.1,369.8 974.7,370.2 976.0,370.5 C977.3,370.8 980.7,372.6 982.4,373.3 C984.1,374.0 990.7,376.7 992.8,377.5 C994.9,378.3 1001.6,380.8 1003.5,381.7 C1005.4,382.6 1010.2,384.7 1012.0,386.5 C1013.8,388.3 1019.9,397.4 1021.6,399.9 C1023.3,402.4 1027.4,409.3 1029.1,411.6 C1030.8,413.9 1037.2,421.4 1038.7,422.9 C1040.2,424.4 1042.8,426.5 1044.0,427.0 C1045.2,427.5 1048.9,428.1 1050.4,428.0 C1051.9,427.9 1057.0,427.4 1058.9,426.5 C1060.8,425.6 1067.5,421.5 1069.6,419.5 C1071.7,417.5 1078.2,409.2 1080.3,406.3 C1082.4,403.4 1088.8,394.1 1090.9,390.3 C1093.0,386.5 1099.9,371.5 1101.6,368.5 C1103.3,365.5 1106.5,362.0 1108.0,360.5 C1109.5,359.0 1115.1,354.0 1116.5,353.1 C1117.9,352.2 1120.6,351.7 1121.9,352.0 C1123.2,352.3 1127.9,355.6 1129.4,356.3 C1130.9,357.1 1135.5,358.3 1136.8,359.5 C1138.1,360.7 1140.8,366.6 1142.2,368.0 C1143.6,369.4 1148.8,372.6 1150.7,373.3 C1152.6,374.0 1159.4,374.4 1161.4,375.1 C1163.4,375.8 1168.5,379.9 1171.0,380.4 C1173.5,380.9 1183.9,381.0 1185.9,380.4 C1187.9,379.8 1189.7,376.8 1191.2,374.4 C1192.7,372.0 1199.8,358.5 1200.8,356.7" fill="none" stroke="#f4433a" stroke-width="1.4" stroke-linejoin="round" stroke-linecap="round"/>
<ellipse cx="1195.5" cy="373" rx="20" ry="37" fill="none" stroke="#1a1a1a" stroke-width="1.3"/>
</g>
<rect x="1317" y="0" width="1" height="745" fill="#3a3a3a"/>
<rect x="3" y="707" width="1400" height="1" fill="#3a3a3a"/>
<text y="139.5" font-size="24" fill="#000" stroke="#000" stroke-width="0.9" stroke-linejoin="round"><tspan x="344.2" textLength="103.6" lengthAdjust="spacingAndGlyphs">AUD/USD</tspan> <tspan x="457.3" textLength="55.8" lengthAdjust="spacingAndGlyphs">Daily</tspan></text>
<text x="736.7" y="262.8" font-size="17" fill="#ff0000" font-weight="normal" text-anchor="start" textLength="89.2" lengthAdjust="spacingAndGlyphs" stroke="#ff0000" stroke-width="0.3" stroke-linejoin="round">21-day EMA</text>
<text x="590.7" y="356" font-size="17" fill="#0000ff" font-weight="normal" text-anchor="start" textLength="102.5" lengthAdjust="spacingAndGlyphs" stroke="#0000ff" stroke-width="0.3" stroke-linejoin="round">200-day SMA</text>
<text x="1234.7" y="95.8" font-size="15.4" fill="#09b62d" font-weight="normal" text-anchor="start" textLength="74.1" lengthAdjust="spacingAndGlyphs" stroke="#09b62d" stroke-width="0.2" stroke-linejoin="round">Feb 2023 H</text>
<text x="1107.3" y="246.9" font-size="15.4" fill="#09b62d" font-weight="normal" text-anchor="start" textLength="81.3" lengthAdjust="spacingAndGlyphs" stroke="#09b62d" stroke-width="0.2" stroke-linejoin="round">June 2023 H</text>
<text x="1048.1" y="530.9" font-size="15.4" fill="#09b62d" font-weight="normal" text-anchor="start" textLength="73.9" lengthAdjust="spacingAndGlyphs" stroke="#09b62d" stroke-width="0.2" stroke-linejoin="round">May 2023 L</text>
<text x="1265.9" y="675.1" font-size="15.4" fill="#09b62d" font-weight="normal" text-anchor="start" textLength="42.9" lengthAdjust="spacingAndGlyphs" stroke="#09b62d" stroke-width="0.2" stroke-linejoin="round">2022 L</text>
<text x="1329.4" y="27.1" font-size="18.2" fill="#4a4a4a" font-weight="normal" text-anchor="start" textLength="60.6" lengthAdjust="spacingAndGlyphs" stroke="#4a4a4a" stroke-width="0.3" stroke-linejoin="round">0.73000</text>
<text x="1329.4" y="85.8" font-size="18.2" fill="#4a4a4a" font-weight="normal" text-anchor="start" textLength="60.6" lengthAdjust="spacingAndGlyphs" stroke="#4a4a4a" stroke-width="0.3" stroke-linejoin="round">0.72000</text>
<text x="1329.4" y="144.4" font-size="18.2" fill="#4a4a4a" font-weight="normal" text-anchor="start" textLength="60.6" lengthAdjust="spacingAndGlyphs" stroke="#4a4a4a" stroke-width="0.3" stroke-linejoin="round">0.71000</text>
<text x="1329.4" y="203.0" font-size="18.2" fill="#4a4a4a" font-weight="normal" text-anchor="start" textLength="60.6" lengthAdjust="spacingAndGlyphs" stroke="#4a4a4a" stroke-width="0.3" stroke-linejoin="round">0.70000</text>
<text x="1329.4" y="261.6" font-size="18.2" fill="#4a4a4a" font-weight="normal" text-anchor="start" textLength="60.6" lengthAdjust="spacingAndGlyphs" stroke="#4a4a4a" stroke-width="0.3" stroke-linejoin="round">0.69000</text>
<text x="1329.4" y="320.2" font-size="18.2" fill="#4a4a4a" font-weight="normal" text-anchor="start" textLength="60.6" lengthAdjust="spacingAndGlyphs" stroke="#4a4a4a" stroke-width="0.3" stroke-linejoin="round">0.68000</text>
<text x="1329.4" y="378.9" font-size="18.2" fill="#4a4a4a" font-weight="normal" text-anchor="start" textLength="60.6" lengthAdjust="spacingAndGlyphs" stroke="#4a4a4a" stroke-width="0.3" stroke-linejoin="round">0.67000</text>
<text x="1329.4" y="437.5" font-size="18.2" fill="#4a4a4a" font-weight="normal" text-anchor="start" textLength="60.6" lengthAdjust="spacingAndGlyphs" stroke="#4a4a4a" stroke-width="0.3" stroke-linejoin="round">0.66000</text>
<text x="1329.4" y="496.1" font-size="18.2" fill="#4a4a4a" font-weight="normal" text-anchor="start" textLength="60.6" lengthAdjust="spacingAndGlyphs" stroke="#4a4a4a" stroke-width="0.3" stroke-linejoin="round">0.65000</text>
<text x="1329.4" y="554.7" font-size="18.2" fill="#4a4a4a" font-weight="normal" text-anchor="start" textLength="60.6" lengthAdjust="spacingAndGlyphs" stroke="#4a4a4a" stroke-width="0.3" stroke-linejoin="round">0.64000</text>
<text x="1329.4" y="613.3" font-size="18.2" fill="#4a4a4a" font-weight="normal" text-anchor="start" textLength="60.6" lengthAdjust="spacingAndGlyphs" stroke="#4a4a4a" stroke-width="0.3" stroke-linejoin="round">0.63000</text>
<text x="1329.4" y="672.0" font-size="18.2" fill="#4a4a4a" font-weight="normal" text-anchor="start" textLength="60.6" lengthAdjust="spacingAndGlyphs" stroke="#4a4a4a" stroke-width="0.3" stroke-linejoin="round">0.62000</text>
<path d="M1317,92.0 H1396.7 a2.5,2.5 0 0 1 2.5,2.5 V114.5 a2.5,2.5 0 0 1 -2.5,2.5 H1317 Z" fill="#09b62d"/>
<text x="1330.2" y="110.7" font-size="18.2" fill="#fff" font-weight="normal" text-anchor="start" textLength="60.8" lengthAdjust="spacingAndGlyphs" stroke="#fff" stroke-width="0.75" stroke-linejoin="round">0.71580</text>
<path d="M1317,243.0 H1396.7 a2.5,2.5 0 0 1 2.5,2.5 V265.5 a2.5,2.5 0 0 1 -2.5,2.5 H1317 Z" fill="#09b62d"/>
<text x="1330.2" y="261.7" font-size="18.2" fill="#fff" font-weight="normal" text-anchor="start" textLength="60.8" lengthAdjust="spacingAndGlyphs" stroke="#fff" stroke-width="0.75" stroke-linejoin="round">0.69000</text>
<path d="M1317,302.0 H1396.7 a2.5,2.5 0 0 1 2.5,2.5 V324.5 a2.5,2.5 0 0 1 -2.5,2.5 H1317 Z" fill="#000"/>
<text x="1330.2" y="320.7" font-size="18.2" fill="#fff" font-weight="normal" text-anchor="start" textLength="60.8" lengthAdjust="spacingAndGlyphs" stroke="#fff" stroke-width="0.75" stroke-linejoin="round">0.68000</text>
<path d="M1317,378.0 H1396.7 a2.5,2.5 0 0 1 2.5,2.5 V400.5 a2.5,2.5 0 0 1 -2.5,2.5 H1317 Z" fill="#00bcd4"/>
<text x="1330.2" y="396.7" font-size="18.2" fill="#000" font-weight="normal" text-anchor="start" textLength="60.8" lengthAdjust="spacingAndGlyphs" stroke="#000" stroke-width="0.3" stroke-linejoin="round">0.66700</text>
<path d="M1317,431.0 H1396.7 a2.5,2.5 0 0 1 2.5,2.5 V453.5 a2.5,2.5 0 0 1 -2.5,2.5 H1317 Z" fill="#000"/>
<text x="1330.2" y="449.7" font-size="18.2" fill="#fff" font-weight="normal" text-anchor="start" textLength="60.8" lengthAdjust="spacingAndGlyphs" stroke="#fff" stroke-width="0.75" stroke-linejoin="round">0.65800</text>
<path d="M1317,502.0 H1396.7 a2.5,2.5 0 0 1 2.5,2.5 V524.5 a2.5,2.5 0 0 1 -2.5,2.5 H1317 Z" fill="#09b62d"/>
<text x="1330.2" y="520.7" font-size="18.2" fill="#fff" font-weight="normal" text-anchor="start" textLength="60.8" lengthAdjust="spacingAndGlyphs" stroke="#fff" stroke-width="0.75" stroke-linejoin="round">0.64585</text>
<path d="M1317,671.0 H1396.7 a2.5,2.5 0 0 1 2.5,2.5 V693.5 a2.5,2.5 0 0 1 -2.5,2.5 H1317 Z" fill="#09b62d"/>
<text x="1330.2" y="689.7" font-size="18.2" fill="#fff" font-weight="normal" text-anchor="start" textLength="60.8" lengthAdjust="spacingAndGlyphs" stroke="#fff" stroke-width="0.75" stroke-linejoin="round">0.61703</text>
<text x="75.6" y="732.4" font-size="16.2" fill="#4a4a4a" font-weight="normal" text-anchor="start" textLength="27" lengthAdjust="spacingAndGlyphs">Sep</text>
<text x="286.4" y="732.4" font-size="16.2" fill="#4a4a4a" font-weight="normal" text-anchor="start" textLength="28.6" lengthAdjust="spacingAndGlyphs">Nov</text>
<text x="497.8" y="732.4" font-size="16.2" fill="#333333" font-weight="bold" text-anchor="start" textLength="39.6" lengthAdjust="spacingAndGlyphs">2023</text>
<text x="709.2" y="732.4" font-size="16.2" fill="#4a4a4a" font-weight="normal" text-anchor="start" textLength="28.5" lengthAdjust="spacingAndGlyphs">Mar</text>
<text x="824.2" y="732.4" font-size="16.2" fill="#4a4a4a" font-weight="normal" text-anchor="start" textLength="26.5" lengthAdjust="spacingAndGlyphs">Apr</text>
<text x="1035" y="732.4" font-size="16.2" fill="#4a4a4a" font-weight="normal" text-anchor="start" textLength="26.8" lengthAdjust="spacingAndGlyphs">Jun</text>
<text x="1245.8" y="732.4" font-size="16.2" fill="#4a4a4a" font-weight="normal" text-anchor="start" textLength="28.5" lengthAdjust="spacingAndGlyphs">Aug</text>
<g fill="#131722"><path d="M16,671 H31 V689 H24 V677.8 H16 Z"/><circle cx="37.4" cy="674.5" r="3.45"/><path d="M45.3,671 H53 L45.8,689 H38 Z"/></g>
<polygon points="1370.6,727.4 1366.3,734.8 1357.7,734.8 1353.4,727.4 1357.7,720.0 1366.3,720.0" fill="none" stroke="#131722" stroke-width="1.3" stroke-linejoin="round"/><circle cx="1362" cy="727.4" r="3.1" fill="none" stroke="#131722" stroke-width="1.3"/>
</svg></body></html>
